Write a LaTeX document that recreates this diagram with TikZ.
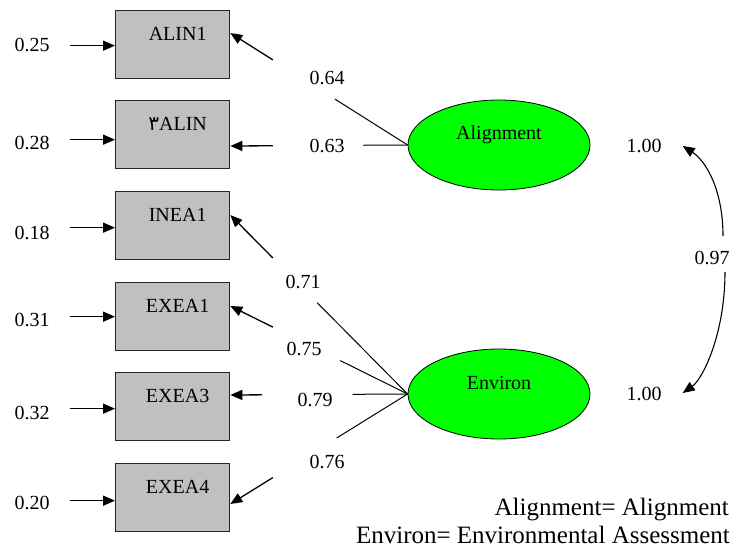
\documentclass[tikz,border=0pt]{standalone}
\usepackage{fontspec}
\setmainfont{Liberation Serif}
\newfontfamily\arabicfont[Script=Arabic]{DejaVu Sans}
\usetikzlibrary{arrows.meta,calc,shapes.geometric}
\definecolor{boxgray}{HTML}{C0C0C0}
\definecolor{latgreen}{HTML}{00FF00}
\begin{document}
\begin{tikzpicture}[x=1pt,y=-1pt,
  obs/.style={draw=black!85,line width=1.3pt,fill=boxgray,minimum width=114pt,minimum height=68pt,inner sep=0pt,anchor=north west},
  lat/.style={ellipse,draw=black,line width=0.8pt,fill=latgreen,minimum width=182pt,minimum height=90pt,inner sep=0pt},
  num/.style={font=\fontsize{20}{24}\selectfont,inner sep=0pt},
  lbl/.style={num,xshift=5pt,yshift=11pt},
  arr/.style={-{Triangle[length=12pt,width=10pt]},line width=1.3pt},
  ln/.style={line width=1pt},
  leg/.style={font=\fontsize{25}{28}\selectfont,inner sep=0pt,anchor=base east}]
\useasboundingbox (0,0) rectangle (734,550);

% observed variables
\node[obs,label={[lbl]center:ALIN1}] (b1) at (115,10) {};
\node[obs,label={[lbl]center:{{\arabicfont ٣}ALIN}}] (b2) at (115,100) {};
\node[obs,label={[lbl]center:INEA1}] (b3) at (115,191) {};
\node[obs,label={[lbl]center:EXEA1}] (b4) at (115,282) {};
\node[obs,label={[lbl]center:EXEA3}] (b5) at (115,372) {};
\node[obs,label={[lbl]center:EXEA4}] (b6) at (115,463) {};

% error variances
\node[num] (e1) at (32,45) {0.25};
\node[num] (e2) at (32,143) {0.28};
\node[num] (e3) at (32,233) {0.18};
\node[num] (e4) at (32,320) {0.31};
\node[num] (e5) at (32,413) {0.32};
\node[num] (e6) at (32,503) {0.20};
\draw[arr] ($(b1.west)+(-45,1)$) -- ($(b1.west)+(0,1)$);
\draw[arr] ($(b2.west)+(-45,5)$) -- ($(b2.west)+(0,5)$);
\draw[arr] ($(b3.west)+(-45,2)$) -- ($(b3.west)+(0,2)$);
\draw[arr] ($(b4.west)+(-45,0)$) -- ($(b4.west)+(0,0)$);
\draw[arr] ($(b5.west)+(-45,2)$) -- ($(b5.west)+(0,2)$);
\draw[arr] ($(b6.west)+(-45,3)$) -- ($(b6.west)+(0,3)$);

% latent variables
\node[lat,label={[num,yshift=10pt]center:Alignment}] (al) at (499,145) {};
\node[lat,label={[num,yshift=11pt]center:Environ}] (en) at (499,394) {};

% arrow tips on the boxes
\coordinate (t1) at ($(b1.north east)+(0,23)$);
\coordinate (t2) at ($(b2.north east)+(0,46)$);
\coordinate (t3) at ($(b3.north east)+(0,24)$);
\coordinate (t4) at ($(b4.north east)+(0,24)$);
\coordinate (t5) at ($(b5.north east)+(0,23)$);
\coordinate (t6) at ($(b6.north east)+(0,41)$);

% loadings
\draw[ln] (al.west) -- ($(al.west)!0.41!(t1)$);
\draw[arr] ($(al.west)!0.76!(t1)$) -- (t1);
\node[num] (l1) at (327,78) {0.64};
\draw[ln] (al.west) -- ($(al.west)!0.25!(t2)$);
\draw[arr] ($(al.west)!0.76!(t2)$) -- (t2);
\node[num] (l2) at (327,146) {0.63};

\draw[ln] (en.west) -- ($(en.west)!0.51!(t3)$);
\draw[arr] ($(en.west)!0.76!(t3)$) -- (t3);
\node[num] (l3) at (303,282) {0.71};
\draw[ln] (en.west) -- ($(en.west)!0.38!(t4)$);
\draw[arr] ($(en.west)!0.76!(t4)$) -- (t4);
\node[num] (l4) at (304,349) {0.75};
\draw[ln] (en.west) -- ($(en.west)!0.31!(t5)$);
\draw[arr] ($(en.west)!0.82!(t5)$) -- (t5);
\node[num] (l5) at (315,400) {0.79};
\draw[ln] (en.west) -- ($(en.west)!0.40!(t6)$);
\draw[arr] ($(en.west)!0.76!(t6)$) -- (t6);
\node[num] (l6) at (327,462) {0.76};

% latent variances and covariance
\node[num] (v1) at (644,146) {1.00};
\node[num] (v2) at (644,394) {1.00};
\coordinate (c1) at ($(v1.east)+(21,0)$);
\coordinate (c2) at ($(v2.east)+(21,-1)$);
\node[num] (r) at (712,258) {0.97};
\draw[arr,line width=1.1pt] ($(r.north)+(11,-15)$) .. controls +(0,-48) and +(22,14) .. (c1);
\draw[arr,line width=1.1pt] ($(r.south)+(13,7)$) .. controls +(0,62) and +(20,-14) .. (c2);

% legend
\node[leg] (g1) at (729,515) {Alignment= Alignment};
\node[leg] (g2) at (730,543) {Environ= Environmental Assessment};
\end{tikzpicture}
\end{document}
